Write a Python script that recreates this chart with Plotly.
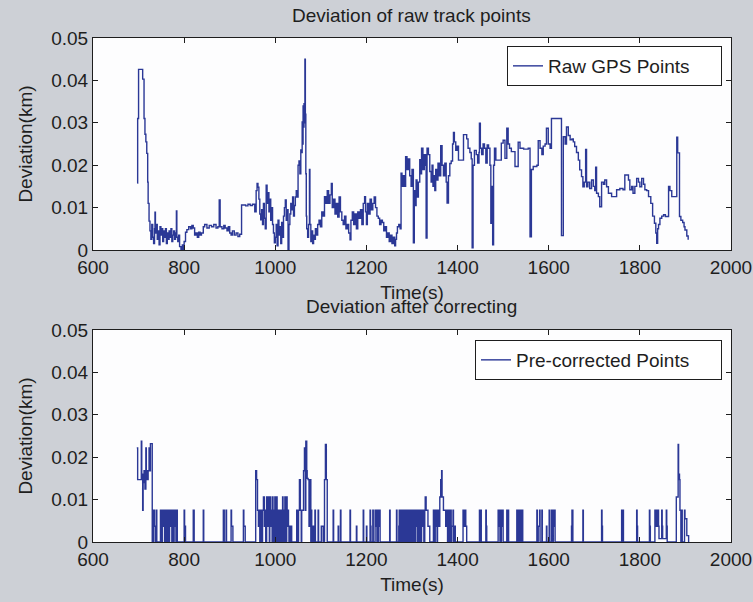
import plotly.graph_objects as go

# ---------------- data ----------------
raw_t = [697, 698, 700, 708, 709, 712, 714, 716, 718, 720, 721, 723, 725, 727, 729, 731, 733, 735, 736, 737,
         739, 741, 743, 745, 747, 749, 751, 753, 755, 757, 759, 761, 763, 765, 767, 769, 771, 773, 775, 777,
         779, 781, 783, 784, 786, 788, 790, 793, 796, 798, 800, 803, 806, 810, 814, 817, 820, 823, 826, 829,
         832, 835, 838, 842, 845, 850, 855, 860, 865, 870, 874, 877, 879, 883, 887, 890, 894, 897, 900, 903,
         906, 910, 914, 918, 922, 926, 930, 935, 940, 945, 950, 955, 958, 960, 962, 964, 966, 968, 970, 972,
         974, 976, 978, 980, 982, 984, 986, 988, 990, 992, 994, 996, 998, 1000, 1002, 1004, 1006, 1008, 1010, 1012,
         1014, 1016, 1018, 1020, 1022, 1024, 1026, 1028, 1030, 1032, 1034, 1036, 1038, 1040, 1042, 1044, 1046, 1048, 1050, 1052,
         1054, 1056, 1058, 1059, 1060, 1061, 1062, 1063, 1064, 1065, 1066, 1067, 1068, 1069, 1071, 1073, 1075, 1076, 1078, 1080,
         1082, 1084, 1086, 1088, 1090, 1093, 1096, 1099, 1102, 1105, 1108, 1111, 1114, 1117, 1120, 1123, 1125, 1128, 1131, 1134,
         1137, 1140, 1143, 1146, 1149, 1152, 1155, 1158, 1161, 1164, 1166, 1169, 1172, 1175, 1178, 1181, 1184, 1187, 1190, 1193,
         1196, 1198, 1200, 1202, 1205, 1208, 1211, 1214, 1217, 1220, 1223, 1226, 1229, 1232, 1235, 1238, 1241, 1244, 1247, 1250,
         1253, 1256, 1259, 1262, 1264, 1266, 1268, 1271, 1274, 1276, 1278, 1281, 1284, 1286, 1289, 1292, 1295, 1298, 1300, 1303,
         1305, 1307, 1309, 1311, 1314, 1317, 1319, 1321, 1324, 1327, 1330, 1331, 1333, 1336, 1339, 1342, 1344, 1346, 1348, 1350,
         1352, 1354, 1357, 1360, 1363, 1366, 1369, 1372, 1375, 1377, 1380, 1383, 1386, 1389, 1391, 1393, 1396, 1399, 1402, 1406,
         1410, 1413, 1416, 1420, 1423, 1427, 1430, 1432, 1434, 1437, 1441, 1444, 1447, 1448, 1450, 1453, 1456, 1459, 1462, 1465,
         1468, 1471, 1473, 1475, 1477, 1479, 1481, 1484, 1488, 1492, 1496, 1500, 1504, 1508, 1511, 1514, 1518, 1522, 1526, 1530,
         1533, 1537, 1545, 1555, 1559, 1562, 1566, 1570, 1574, 1577, 1581, 1585, 1588, 1592, 1595, 1599, 1603, 1606, 1615, 1625,
         1628, 1632, 1636, 1639, 1643, 1647, 1651, 1654, 1657, 1661, 1665, 1668, 1672, 1675, 1678, 1681, 1683, 1686, 1690, 1694,
         1698, 1701, 1703, 1705, 1709, 1712, 1716, 1720, 1723, 1727, 1731, 1738, 1745, 1749, 1756, 1763, 1767, 1771, 1775, 1778,
         1782, 1785, 1789, 1793, 1797, 1800, 1804, 1808, 1811, 1815, 1819, 1824, 1828, 1832, 1835, 1837, 1839, 1841, 1844, 1848,
         1852, 1856, 1859, 1863, 1866, 1870, 1874, 1878, 1881, 1883, 1885, 1887, 1890, 1894, 1897, 1899, 1903, 1906]
raw_v = [0.0158, 0.0310, 0.0426, 0.0426, 0.0403, 0.0310, 0.0273, 0.0255, 0.0228, 0.0160, 0.0110, 0.0068, 0.0045, 0.0025, 0.0060, 0.0030, 0.0015, 0.0050, 0.0089, 0.0040,
         0.0060, 0.0025, 0.0045, 0.0012, 0.0055, 0.0035, 0.0050, 0.0020, 0.0045, 0.0030, 0.0050, 0.0015, 0.0040, 0.0025, 0.0045, 0.0030, 0.0050, 0.0020, 0.0035, 0.0045,
         0.0025, 0.0040, 0.0092, 0.0030, 0.0020, 0.0035, 0.0008, 0.0000, 0.0012, 0.0000, 0.0020, 0.0042, 0.0048, 0.0055, 0.0050, 0.0058, 0.0052, 0.0035, 0.0040, 0.0030,
         0.0042, 0.0035, 0.0040, 0.0055, 0.0060, 0.0052, 0.0058, 0.0055, 0.0060, 0.0052, 0.0055, 0.0118, 0.0055, 0.0050, 0.0058, 0.0052, 0.0045, 0.0055, 0.0040, 0.0035,
         0.0045, 0.0035, 0.0040, 0.0032, 0.0037, 0.0106, 0.0106, 0.0104, 0.0108, 0.0105, 0.0108, 0.0090, 0.0140, 0.0157, 0.0148, 0.0120, 0.0085, 0.0071, 0.0095, 0.0060,
         0.0110, 0.0075, 0.0050, 0.0153, 0.0110, 0.0135, 0.0090, 0.0120, 0.0070, 0.0100, 0.0060, 0.0040, 0.0017, 0.0030, 0.0060, 0.0010, 0.0070, 0.0035, 0.0055, 0.0015,
         0.0065, 0.0030, 0.0080, 0.0100, 0.0118, 0.0070, 0.0095, 0.0000, 0.0060, 0.0085, 0.0110, 0.0095, 0.0125, 0.0080, 0.0105, 0.0125, 0.0140, 0.0125, 0.0200, 0.0210,
         0.0180, 0.0236, 0.0230, 0.0302, 0.0250, 0.0340, 0.0290, 0.0345, 0.0300, 0.0450, 0.0320, 0.0180, 0.0080, 0.0050, 0.0030, 0.0060, 0.0190, 0.0060, 0.0020, 0.0045,
         0.0015, 0.0035, 0.0025, 0.0050, 0.0035, 0.0060, 0.0070, 0.0055, 0.0090, 0.0080, 0.0126, 0.0110, 0.0140, 0.0110, 0.0130, 0.0157, 0.0100, 0.0120, 0.0085, 0.0110,
         0.0078, 0.0125, 0.0090, 0.0070, 0.0060, 0.0080, 0.0050, 0.0060, 0.0040, 0.0024, 0.0070, 0.0090, 0.0060, 0.0085, 0.0050, 0.0090, 0.0075, 0.0095, 0.0060, 0.0110,
         0.0126, 0.0090, 0.0060, 0.0110, 0.0085, 0.0120, 0.0095, 0.0110, 0.0125, 0.0100, 0.0080, 0.0075, 0.0060, 0.0070, 0.0065, 0.0045, 0.0055, 0.0030, 0.0040, 0.0020,
         0.0035, 0.0015, 0.0030, 0.0010, 0.0025, 0.0040, 0.0055, 0.0060, 0.0050, 0.0181, 0.0150, 0.0175, 0.0150, 0.0220, 0.0190, 0.0215, 0.0175, 0.0150, 0.0190, 0.0017,
         0.0140, 0.0105, 0.0165, 0.0125, 0.0160, 0.0213, 0.0180, 0.0240, 0.0190, 0.0225, 0.0200, 0.0028, 0.0240, 0.0225, 0.0185, 0.0160, 0.0200, 0.0150, 0.0175, 0.0140,
         0.0190, 0.0165, 0.0205, 0.0175, 0.0246, 0.0200, 0.0175, 0.0205, 0.0160, 0.0111, 0.0175, 0.0204, 0.0210, 0.0250, 0.0277, 0.0255, 0.0235, 0.0245, 0.0212, 0.0212,
         0.0212, 0.0272, 0.0272, 0.0262, 0.0240, 0.0230, 0.0215, 0.0005, 0.0200, 0.0235, 0.0225, 0.0205, 0.0230, 0.0299, 0.0240, 0.0225, 0.0250, 0.0240, 0.0205, 0.0248,
         0.0240, 0.0200, 0.0063, 0.0150, 0.0012, 0.0200, 0.0240, 0.0212, 0.0212, 0.0212, 0.0252, 0.0259, 0.0216, 0.0287, 0.0250, 0.0240, 0.0232, 0.0232, 0.0197, 0.0197,
         0.0254, 0.0240, 0.0238, 0.0240, 0.0031, 0.0190, 0.0197, 0.0197, 0.0200, 0.0258, 0.0240, 0.0225, 0.0245, 0.0250, 0.0287, 0.0250, 0.0240, 0.0310, 0.0310, 0.0310,
         0.0034, 0.0267, 0.0250, 0.0290, 0.0270, 0.0260, 0.0262, 0.0255, 0.0244, 0.0230, 0.0212, 0.0189, 0.0173, 0.0149, 0.0160, 0.0237, 0.0149, 0.0160, 0.0145, 0.0165,
         0.0150, 0.0140, 0.0195, 0.0134, 0.0126, 0.0102, 0.0160, 0.0155, 0.0165, 0.0149, 0.0134, 0.0126, 0.0126, 0.0142, 0.0145, 0.0142, 0.0177, 0.0177, 0.0165, 0.0142,
         0.0150, 0.0134, 0.0150, 0.0169, 0.0160, 0.0149, 0.0169, 0.0155, 0.0142, 0.0140, 0.0126, 0.0110, 0.0080, 0.0063, 0.0040, 0.0016, 0.0050, 0.0060, 0.0075, 0.0080,
         0.0083, 0.0079, 0.0079, 0.0150, 0.0140, 0.0126, 0.0126, 0.0126, 0.0266, 0.0229, 0.0229, 0.0079, 0.0070, 0.0065, 0.0055, 0.0047, 0.0033, 0.0024]

cor_t = [696, 698, 704, 706, 707, 709, 710, 712, 714, 716, 717, 719, 721, 723, 724, 726, 729, 730,
         733, 735, 737, 739, 740, 748, 749, 752, 754, 756, 757,
         760, 761, 762, 763, 764, 765, 766, 767, 768, 769, 770, 771, 772, 773, 774, 775, 776, 777, 778, 779, 780, 782, 784, 785,
         800, 801, 803, 820, 822, 842, 843, 886, 888, 892, 893, 903, 904, 906, 907, 930, 931, 934,
         957, 959, 961, 963, 964, 966, 968, 970, 972, 974, 976, 978, 979, 981, 983, 984, 985, 987, 988, 990, 991, 993, 994, 995,
         996, 997, 999, 1000, 1001, 1002, 1003, 1004, 1005, 1006, 1007, 1008, 1009, 1010, 1011, 1012, 1013, 1014, 1015, 1016, 1017,
         1018, 1019, 1020, 1021, 1022, 1023, 1024, 1025, 1026, 1027, 1029, 1030, 1031, 1032, 1034, 1036,
         1047, 1049, 1051, 1053, 1055, 1057, 1058, 1060, 1062, 1064, 1066, 1067, 1069, 1070, 1072, 1074, 1075, 1076, 1077, 1078,
         1079, 1080, 1083, 1084, 1087, 1088, 1094, 1095, 1101, 1103, 1105, 1108, 1110, 1112, 1114,
         1127, 1128, 1138, 1139, 1143, 1144, 1164, 1165, 1178, 1179, 1193, 1194, 1200, 1201, 1208, 1209, 1210, 1214, 1215,
         1219, 1220, 1222, 1223, 1226, 1227, 1229, 1230, 1251, 1252, 1266, 1267, 1271, 1272, 1273,
         1276, 1277, 1278, 1279, 1280, 1281, 1282, 1283, 1284, 1285, 1286, 1287, 1288, 1289, 1290, 1291, 1292, 1293, 1294, 1295,
         1296, 1297, 1298, 1299, 1300, 1301, 1302, 1303, 1304, 1305, 1306, 1307, 1308, 1309, 1310, 1312, 1313, 1314, 1315, 1316,
         1317, 1318, 1319, 1320, 1321, 1323, 1325, 1326, 1328, 1329, 1331, 1333, 1335, 1337, 1339,
         1347, 1348, 1349, 1350, 1351, 1352, 1353, 1355, 1356, 1358, 1361, 1363, 1365, 1366, 1368, 1369, 1372, 1374, 1376, 1378,
         1380, 1381, 1383, 1384, 1385, 1386, 1387, 1389, 1390, 1391, 1394, 1395,
         1412, 1413, 1415, 1416, 1418, 1420, 1448, 1449, 1451, 1452, 1462, 1463, 1464,
         1489, 1490, 1492, 1493, 1496, 1497, 1499, 1500, 1508, 1509, 1511, 1512,
         1530, 1531, 1532, 1533, 1534, 1535, 1536, 1537, 1538, 1539, 1540, 1541, 1542, 1543,
         1574, 1575, 1577, 1579, 1580, 1581, 1585, 1586, 1595, 1596, 1601, 1602, 1606, 1607, 1608, 1609, 1610, 1612, 1614,
         1650, 1651, 1653, 1675, 1676, 1716, 1717, 1718, 1760, 1761, 1762, 1764, 1793, 1794, 1795, 1821, 1822, 1823,
         1833, 1834, 1835, 1836, 1837, 1838, 1840, 1841, 1842, 1848, 1849, 1850, 1858, 1859, 1860,
         1880, 1882, 1884, 1885, 1887, 1888, 1890, 1892, 1893, 1898, 1899, 1902, 1903, 1906, 1907]
cor_v = [0.0222, 0.0147, 0.0147, 0.0238, 0.0160, 0.0075, 0.0140, 0.0168, 0.0125, 0.0222, 0.0168, 0.0147, 0.0168, 0.0222, 0.0168, 0.0232, 0.0232, 0.0,
         0.0075, 0.0037, 0.0, 0.0075, 0.0, 0.0075, 0.0, 0.0075, 0.0037, 0.0075, 0.0,
         0.0075, 0.0037, 0.0075, 0.0, 0.0075, 0.0037, 0.0075, 0.0, 0.0075, 0.0037, 0.0075, 0.0037, 0.0075, 0.0, 0.0075, 0.0037, 0.0075, 0.0, 0.0075, 0.0037, 0.0075, 0.0, 0.0075, 0.0,
         0.0075, 0.0037, 0.0, 0.0075, 0.0, 0.0075, 0.0, 0.0075, 0.0, 0.0075, 0.0, 0.0075, 0.0037, 0.0037, 0.0, 0.0075, 0.0037, 0.0,
         0.0168, 0.0147, 0.0075, 0.0037, 0.0075, 0.0, 0.0075, 0.0, 0.0075, 0.0106, 0.0037, 0.0075, 0.0, 0.0106, 0.0075, 0.0037, 0.0106, 0.0, 0.0106, 0.0037, 0.0075, 0.0, 0.0106, 0.0037,
         0.0075, 0.0, 0.0106, 0.0037, 0.0075, 0.0, 0.0106, 0.0037, 0.0075, 0.0, 0.0037, 0.0075, 0.0, 0.0037, 0.0075, 0.0037, 0.0, 0.0075, 0.0037, 0.0106, 0.0,
         0.0037, 0.0075, 0.0, 0.0106, 0.0037, 0.0075, 0.0, 0.0106, 0.0037, 0.0075, 0.0037, 0.0, 0.0037, 0.0, 0.0037, 0.0,
         0.0075, 0.0, 0.0075, 0.0147, 0.0075, 0.0, 0.0075, 0.0075, 0.0168, 0.0222, 0.0075, 0.0238, 0.0168, 0.0150, 0.0147, 0.0037, 0.0147, 0.0037, 0.0147, 0.0,
         0.0075, 0.0, 0.0037, 0.0, 0.0075, 0.0, 0.0075, 0.0, 0.0037, 0.0037, 0.0, 0.0147, 0.0230, 0.0147, 0.0,
         0.0075, 0.0, 0.0037, 0.0, 0.0075, 0.0, 0.0075, 0.0, 0.0037, 0.0, 0.0075, 0.0, 0.0037, 0.0, 0.0075, 0.0037, 0.0, 0.0075, 0.0,
         0.0075, 0.0037, 0.0075, 0.0, 0.0075, 0.0037, 0.0075, 0.0, 0.0075, 0.0, 0.0075, 0.0, 0.0037, 0.0075, 0.0,
         0.0075, 0.0037, 0.0075, 0.0, 0.0075, 0.0037, 0.0075, 0.0, 0.0075, 0.0037, 0.0075, 0.0, 0.0075, 0.0037, 0.0075, 0.0, 0.0075, 0.0037, 0.0075, 0.0,
         0.0075, 0.0037, 0.0075, 0.0, 0.0075, 0.0037, 0.0075, 0.0, 0.0075, 0.0037, 0.0075, 0.0, 0.0075, 0.0037, 0.0075, 0.0, 0.0075, 0.0037, 0.0075, 0.0,
         0.0075, 0.0037, 0.0075, 0.0, 0.0075, 0.0037, 0.0075, 0.0, 0.0075, 0.0106, 0.0075, 0.0075, 0.0037, 0.0037, 0.0,
         0.0075, 0.0037, 0.0075, 0.0, 0.0075, 0.0037, 0.0075, 0.0, 0.0075, 0.0037, 0.0106, 0.0147, 0.0168, 0.0106, 0.0106, 0.0075, 0.0075, 0.0037, 0.0075, 0.0,
         0.0075, 0.0, 0.0075, 0.0037, 0.0075, 0.0, 0.0037, 0.0037, 0.0075, 0.0, 0.0037, 0.0,
         0.0075, 0.0037, 0.0037, 0.0075, 0.0037, 0.0, 0.0075, 0.0, 0.0075, 0.0, 0.0075, 0.0037, 0.0,
         0.0075, 0.0037, 0.0075, 0.0, 0.0075, 0.0037, 0.0075, 0.0, 0.0075, 0.0, 0.0075, 0.0,
         0.0075, 0.0, 0.0075, 0.0, 0.0075, 0.0, 0.0075, 0.0, 0.0075, 0.0, 0.0075, 0.0, 0.0075, 0.0,
         0.0075, 0.0, 0.0037, 0.0037, 0.0075, 0.0, 0.0075, 0.0, 0.0037, 0.0, 0.0075, 0.0, 0.0075, 0.0037, 0.0075, 0.0, 0.0037, 0.0075, 0.0,
         0.0037, 0.0075, 0.0, 0.0075, 0.0, 0.0075, 0.0037, 0.0, 0.0075, 0.0, 0.0075, 0.0, 0.0075, 0.0037, 0.0, 0.0075, 0.0037, 0.0,
         0.0075, 0.0037, 0.0075, 0.0037, 0.0075, 0.0037, 0.0075, 0.0037, 0.0008, 0.0075, 0.0037, 0.0008, 0.0075, 0.0037, 0.0,
         0.0106, 0.0106, 0.0230, 0.0160, 0.0147, 0.0075, 0.0, 0.0075, 0.0, 0.0075, 0.0055, 0.0055, 0.0015, 0.0015, 0.0]

x_ticks = [600, 800, 1000, 1200, 1400, 1600, 1800, 2000]
y_ticks = [0, 0.01, 0.02, 0.03, 0.04, 0.05]
y_tick_text = ["0", "0.01", "0.02", "0.03", "0.04", "0.05"]

titles = ["Deviation of raw track points", "Deviation after correcting"]
series_names = ["Raw GPS Points", "Pre-corrected Points"]

# ---------------- style ----------------
W, H = 753, 602
BLUE = "#2b3896"
BG = "#cdd0d6"
INK = "#1e1e1e"
FONT = "Liberation Sans, Arial, sans-serif"
FS = 19

def px_x(p):
    return p / W

def px_y(p):
    return 1 - p / H

X_DOM = [px_x(93), px_x(731)]
Y1_DOM = [px_y(250), px_y(38)]
Y2_DOM = [px_y(542), px_y(330)]

fig = go.Figure()
fig.add_trace(go.Scatter(x=raw_t, y=raw_v, mode="lines", name=series_names[0],
                         line=dict(color=BLUE, width=1.4, shape="hv"),
                         xaxis="x", yaxis="y", legend="legend"))
fig.add_trace(go.Scatter(x=cor_t, y=cor_v, mode="lines", name=series_names[1],
                         line=dict(color=BLUE, width=1.4, shape="hv"),
                         xaxis="x2", yaxis="y2", legend="legend2"))

def xax(anchor):
    return dict(domain=X_DOM, anchor=anchor, range=[600, 2000], tickvals=x_ticks,
                ticks="inside", ticklen=5, tickcolor=INK, mirror="allticks",
                showline=True, linecolor=INK, linewidth=1, showgrid=False, zeroline=False,
                automargin=False, tickfont=dict(size=FS, color=INK, family=FONT),
                title=dict(text="Time(s)", standoff=8, font=dict(size=FS, color=INK, family=FONT)))

def yax(dom, anchor):
    return dict(domain=dom, anchor=anchor, range=[0, 0.05], tickvals=y_ticks, ticktext=y_tick_text,
                ticks="inside", ticklen=5, tickcolor=INK, mirror="allticks",
                showline=True, linecolor=INK, linewidth=1, showgrid=False, zeroline=False,
                automargin=False, tickfont=dict(size=FS, color=INK, family=FONT),
                title=dict(text="Deviation(km)", standoff=13, font=dict(size=FS, color=INK, family=FONT)))

def leg(ytop, width):
    return dict(x=px_x(722), xanchor="right", y=px_y(ytop), yanchor="top",
                orientation="h", entrywidthmode="pixels", entrywidth=width,
                bgcolor="white", bordercolor=INK, borderwidth=1,
                font=dict(size=FS, color=INK, family=FONT), tracegroupgap=0)

fig.update_layout(
    width=W, height=H,
    margin=dict(l=0, r=0, t=0, b=0),
    paper_bgcolor=BG, plot_bgcolor="#fdfdfe",
    font=dict(family=FONT, size=FS, color=INK),
    showlegend=True,
    xaxis=xax("y"), yaxis=yax(Y1_DOM, "x"),
    xaxis2=xax("y2"), yaxis2=yax(Y2_DOM, "x2"),
    legend=leg(46, 168), legend2=leg(340, 200),
    annotations=[
        dict(text=titles[0], x=px_x(412), y=px_y(16), xref="paper", yref="paper",
             xanchor="center", yanchor="middle", showarrow=False, font=dict(size=FS, color=INK, family=FONT)),
        dict(text=titles[1], x=px_x(412), y=px_y(306), xref="paper", yref="paper",
             xanchor="center", yanchor="middle", showarrow=False, font=dict(size=FS, color=INK, family=FONT)),
    ],
)

fig.write_html("out.html", config={"displayModeBar": False},
               post_script="document.body.style.margin='0';document.body.style.overflow='hidden';")
